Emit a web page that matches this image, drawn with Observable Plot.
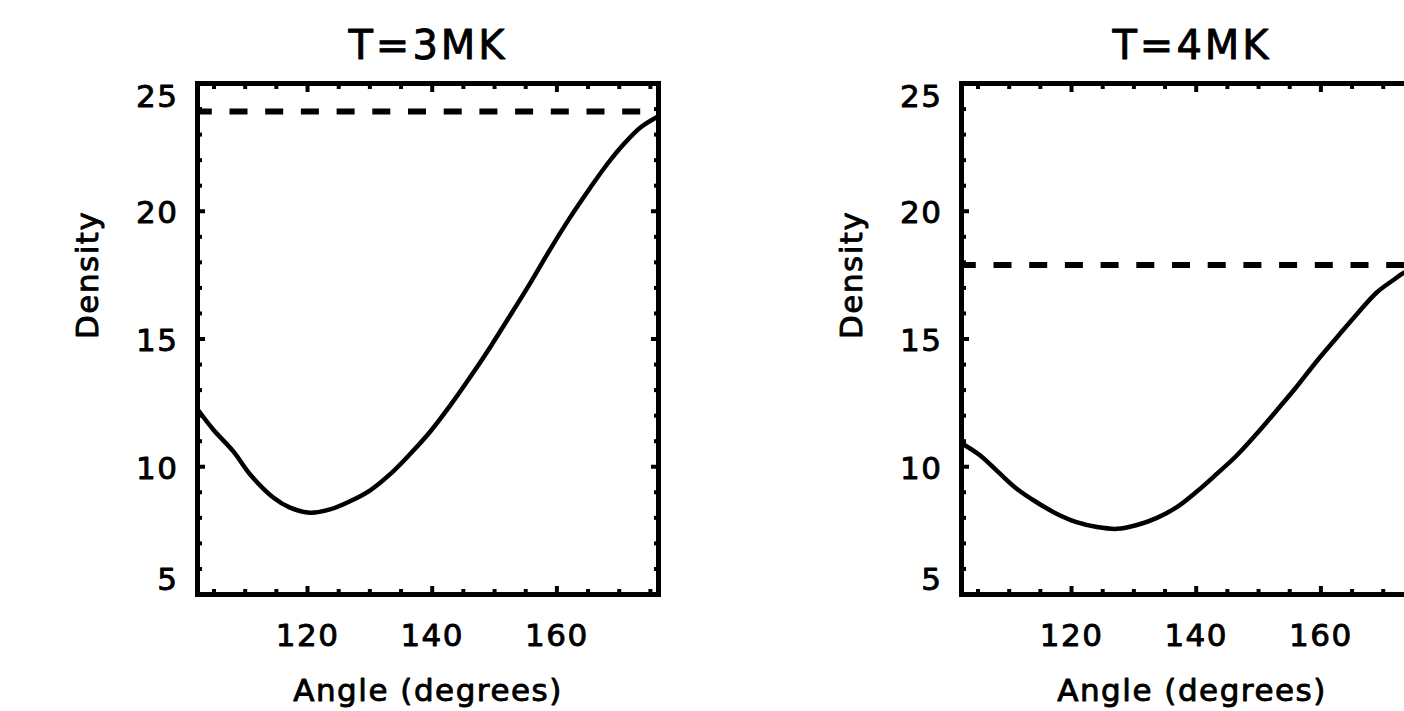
<!DOCTYPE html>
<html><head><meta charset="utf-8">
<script src="https://cdn.jsdelivr.net/npm/d3@7"></script>
<script src="https://cdn.jsdelivr.net/npm/@observablehq/plot@0.6"></script>
<style>
html,body{margin:0;padding:0;overflow:hidden;background:#fff;}
#wrap{display:flex;width:1528px;}
.ttl{letter-spacing:3px;}
.lbl{letter-spacing:1.5px;}
</style></head><body><div id="wrap"></div>
<script>
const titles = ["T=3MK", "T=4MK"];
const angle3 = [102.35, 104.9, 108.1, 110.8, 114.5, 117.2, 120.4, 123.6, 126.8, 130.0, 133.3, 136.5, 139.7, 142.9, 146.1, 149.3, 152.5, 155.7, 158.9, 162.1, 165.3, 168.0, 170.7, 173.4, 176.3];
const density3 = [12.25, 11.45, 10.60, 9.70, 8.80, 8.40, 8.20, 8.33, 8.65, 9.07, 9.72, 10.51, 11.38, 12.40, 13.51, 14.68, 15.92, 17.18, 18.50, 19.75, 20.90, 21.82, 22.62, 23.28, 23.72];
const angle4 = [102.35, 105.3, 108.0, 111.2, 114.4, 117.6, 120.8, 124.1, 127.3, 130.5, 133.7, 136.9, 140.1, 143.3, 146.5, 149.7, 152.9, 156.1, 159.3, 162.6, 165.8, 169.0, 171.7, 173.4, 176.3];
const density4 = [10.92, 10.45, 9.85, 9.14, 8.61, 8.16, 7.83, 7.64, 7.57, 7.72, 8.00, 8.42, 9.03, 9.72, 10.44, 11.29, 12.20, 13.13, 14.12, 15.07, 15.98, 16.83, 17.32, 17.60, 17.85];
const levels = [23.9, 17.9];
const xDomain = [102.35, 176.3];
const yDomain = [5, 25];
const xMajor = [120, 140, 160];
const xMinor = [105, 110, 115, 125, 130, 135, 145, 150, 155, 165, 170, 175];
const yMajor = [5, 10, 15, 20, 25];
const yMinor = [6, 7, 8, 9, 11, 12, 13, 14, 16, 17, 18, 19, 21, 22, 23, 24];
const yLabelsMid = [10, 15, 20];
const yLabelTop = [25];
const yLabelBottom = [5];
const xLabel = "Angle (degrees)";
const yLabel = "Density";

function panel(title, angles, dens, level) {
  const data = angles.map((a, i) => ({a, d: dens[i]}));
  const t = {label: null, fill: "none", stroke: "black", strokeWidth: 4};
  const fs = 31;
  const tx = {fill: "black", stroke: "black", strokeWidth: 0.9, className: "lbl"};
  return Plot.plot({
    width: 764, height: 711,
    marginLeft: 197, marginRight: 106, marginTop: 83, marginBottom: 117,
    x: {domain: xDomain, axis: null},
    y: {domain: yDomain, axis: null},
    style: {fontFamily: "DejaVu Sans", background: "white", color: "black", overflow: "visible"},
    marks: [
      Plot.ruleY([level], {stroke: "black", strokeWidth: 6, strokeDasharray: "18 17.7", strokeDashoffset: 3.2}),
      Plot.line(data, {x: "a", y: "d", stroke: "black", strokeWidth: 4.5, curve: "catmull-rom"}),
      Plot.frame({stroke: "black", strokeWidth: 5}),
      Plot.axisX(xMajor, {...t, anchor: "bottom", tickSize: -8}),
      Plot.axisX(xMajor, {...t, anchor: "top", tickSize: -8}),
      Plot.axisX(xMinor, {...t, anchor: "bottom", tickSize: -5}),
      Plot.axisX(xMinor, {...t, anchor: "top", tickSize: -5}),
      Plot.axisY(yMajor, {...t, anchor: "left", tickSize: -8}),
      Plot.axisY(yMajor, {...t, anchor: "right", tickSize: -8}),
      Plot.axisY(yMinor, {...t, anchor: "left", tickSize: -5}),
      Plot.axisY(yMinor, {...t, anchor: "right", tickSize: -5}),
      Plot.text([title], {...tx, text: d => d, frameAnchor: "top", dy: -37, lineAnchor: "middle", fontSize: 40, className: "ttl"}),
      Plot.text(xMajor, {...tx, x: d => d, text: d => String(d), frameAnchor: "bottom", dy: 42, lineAnchor: "middle", fontSize: fs}),
      Plot.text(yLabelsMid, {...tx, y: d => d, text: d => String(d), frameAnchor: "left", textAnchor: "end", dx: -19, dy: 2, lineAnchor: "middle", fontSize: fs}),
      Plot.text(yLabelTop, {...tx, y: d => d, text: d => String(d), frameAnchor: "left", textAnchor: "end", dx: -19, dy: 14, lineAnchor: "middle", fontSize: fs}),
      Plot.text(yLabelBottom, {...tx, y: d => d, text: d => String(d), frameAnchor: "left", textAnchor: "end", dx: -19, dy: -14, lineAnchor: "middle", fontSize: fs}),
      Plot.text([xLabel], {...tx, text: d => d, frameAnchor: "bottom", dy: 97, lineAnchor: "middle", fontSize: fs}),
      Plot.text([yLabel], {...tx, text: d => d, frameAnchor: "left", dx: -109, rotate: -90, lineAnchor: "middle", fontSize: fs})
    ]
  });
}

const wrap = document.getElementById("wrap");
wrap.appendChild(panel(titles[0], angle3, density3, levels[0]));
wrap.appendChild(panel(titles[1], angle4, density4, levels[1]));
</script>
</body></html>
